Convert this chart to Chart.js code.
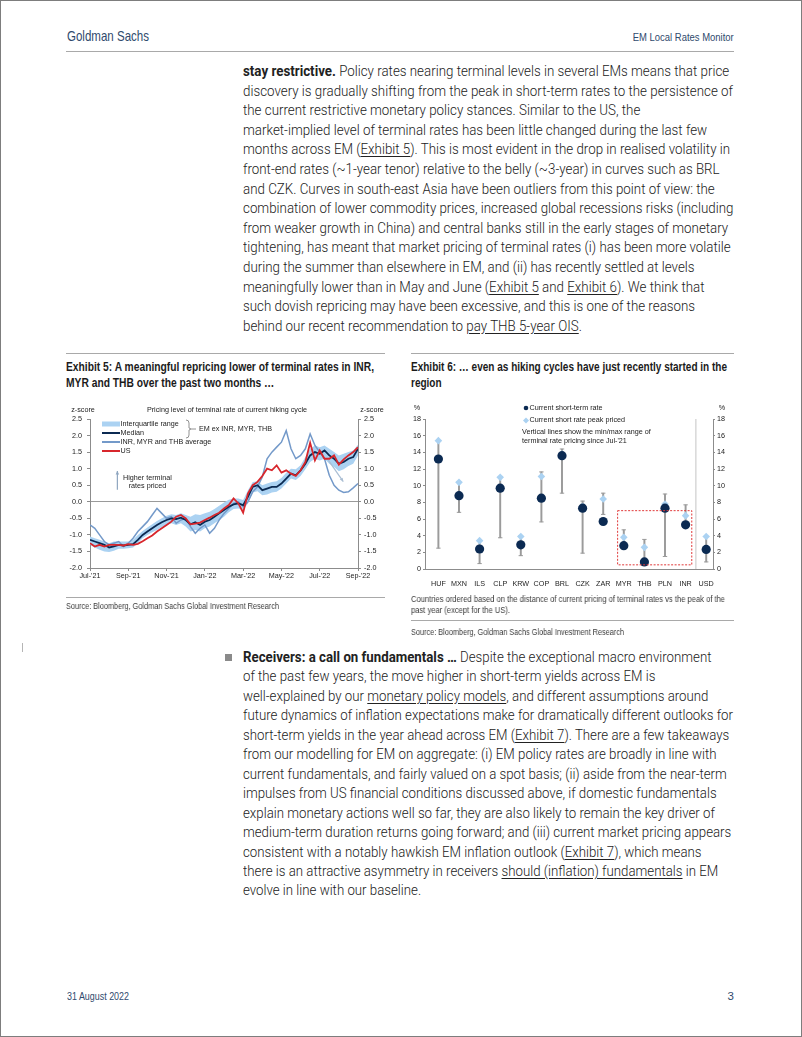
<!DOCTYPE html>
<html>
<head>
<meta charset="utf-8">
<script src="https://cdn.jsdelivr.net/npm/chart.js@4.4.1/dist/chart.umd.min.js"></script>
<style>
html, body { margin: 0; padding: 0; }
body { width: 802px; height: 1037px; position: relative; background: #fff; overflow: hidden; }
.frame { position: absolute; left: 0; top: 0; width: 802px; height: 1037px; box-sizing: border-box; border: 1px solid #7d7d7d; }
.narrow { font-family: "Liberation Sans", Arial, sans-serif; }
.hdr { position: absolute; color: #2f4a6d; white-space: nowrap; transform-origin: left center; }
.hdr.r { transform-origin: right center; }
.rule { position: absolute; height: 0; border-top: 1.5px solid #a9a9a9; }
.text { position: absolute; left: 243px; font-family: Roboto, sans-serif; font-weight: 300; font-size: 14.3px; color: #222; line-height: 19.6px; white-space: nowrap; transform-origin: left top; }
.text b { font-weight: 700; }
.text u { text-decoration: underline; text-underline-offset: 2px; }
.title { position: absolute; font-weight: 700; font-size: 12.3px; line-height: 16px; color: #1b1b1b; white-space: nowrap; transform-origin: left top; }
.note { position: absolute; font-size: 8.6px; line-height: 11px; color: #3a3a3a; white-space: nowrap; transform-origin: left top; will-change: transform; }
.fitline { display: inline-block; }
canvas { position: absolute; }
.bullet { position: absolute; left: 225px; top: 654px; width: 7px; height: 7px; background: #8a8a8a; }
.tick { position: absolute; left: 22px; top: 643px; width: 1px; height: 9px; background: #b5b5b5; }
</style>
</head>
<body>
<div class="frame"></div>

<div class="hdr narrow" data-fit="82" style="left:67px;top:28px;font-size:14.5px;">Goldman Sachs</div>
<div class="hdr narrow r" data-fit="101" style="right:68px;top:31px;font-size:11.5px;">EM Local Rates Monitor</div>
<div class="rule" style="left:66px;top:51px;width:668px;"></div>

<div class="text" data-fit="490" style="top:62px;">
<div><b>stay restrictive.</b> Policy rates nearing terminal levels in several EMs means that price</div>
<div class="fitline">discovery is gradually shifting from the peak in short-term rates to the persistence of</div>
<div>the current restrictive monetary policy stances. Similar to the US, the</div>
<div>market-implied level of terminal rates has been little changed during the last few</div>
<div>months across EM (<u>Exhibit 5</u>). This is most evident in the drop in realised volatility in</div>
<div>front-end rates (~1-year tenor) relative to the belly (~3-year) in curves such as BRL</div>
<div>and CZK. Curves in south-east Asia have been outliers from this point of view: the</div>
<div>combination of lower commodity prices, increased global recessions risks (including</div>
<div>from weaker growth in China) and central banks still in the early stages of monetary</div>
<div>tightening, has meant that market pricing of terminal rates (i) has been more volatile</div>
<div>during the summer than elsewhere in EM, and (ii) has recently settled at levels</div>
<div>meaningfully lower than in May and June (<u>Exhibit 5</u> and <u>Exhibit 6</u>). We think that</div>
<div>such dovish repricing may have been excessive, and this is one of the reasons</div>
<div>behind our recent recommendation to <u>pay THB 5-year OIS</u>.</div>
</div>

<div class="rule" style="left:66px;top:353px;width:319px;"></div>
<div class="rule" style="left:411px;top:353px;width:323px;"></div>
<div class="title narrow" data-fit="308" style="left:66px;top:359px;"><div class="fitline">Exhibit 5: A meaningful repricing lower of terminal rates in INR,</div><div>MYR and THB over the past two months …</div></div>
<div class="title narrow" data-fit="316" style="left:411px;top:359px;"><div class="fitline">Exhibit 6: … even as hiking cycles have just recently started in the</div><div>region</div></div>

<canvas id="c5" width="320" height="190" style="left:66px;top:400px;"></canvas>
<canvas id="c6" width="335" height="190" style="left:405px;top:400px;"></canvas>

<div class="rule" style="left:66px;top:597px;width:319px;"></div>
<div class="note narrow" data-fit="213" style="left:66px;top:601px;"><div class="fitline">Source: Bloomberg, Goldman Sachs Global Investment Research</div></div>
<div class="note narrow" data-fit="314" style="left:411px;top:594px;"><div class="fitline">Countries ordered based on the distance of current pricing of terminal rates vs the peak of the</div><div>past year (except for the US).</div></div>
<div class="rule" style="left:411px;top:620px;width:323px;"></div>
<div class="note narrow" data-fit="213" style="left:411px;top:627px;"><div class="fitline">Source: Bloomberg, Goldman Sachs Global Investment Research</div></div>

<div class="tick"></div>
<div class="bullet"></div>
<div class="text" data-fit="490" style="top:648px;line-height:19.45px;">
<div><b>Receivers: a call on fundamentals …</b> Despite the exceptional macro environment</div>
<div>of the past few years, the move higher in short-term yields across EM is</div>
<div>well-explained by our <u>monetary policy models</u>, and different assumptions around</div>
<div class="fitline">future dynamics of inflation expectations make for dramatically different outlooks for</div>
<div>short-term yields in the year ahead across EM (<u>Exhibit 7</u>). There are a few takeaways</div>
<div>from our modelling for EM on aggregate: (i) EM policy rates are broadly in line with</div>
<div>current fundamentals, and fairly valued on a spot basis; (ii) aside from the near-term</div>
<div>impulses from US financial conditions discussed above, if domestic fundamentals</div>
<div>explain monetary actions well so far, they are also likely to remain the key driver of</div>
<div>medium-term duration returns going forward; and (iii) current market pricing appears</div>
<div>consistent with a notably hawkish EM inflation outlook (<u>Exhibit 7</u>), which means</div>
<div>there is an attractive asymmetry in receivers <u>should (inflation) fundamentals</u> in EM</div>
<div>evolve in line with our baseline.</div>
</div>

<div class="hdr narrow" data-fit="62" style="left:67px;top:990px;font-size:11.5px;">31 August 2022</div>
<div class="hdr narrow r" style="right:68px;top:990px;font-size:11.5px;">3</div>

<script>
// squeeze the condensed-looking texts to the widths they have on the page
document.querySelectorAll('[data-fit]').forEach(el => {
 const ref = el.querySelector('.fitline') || el
 const w = ref.getBoundingClientRect().width
 el.style.transform = 'scaleX(' + (+el.dataset.fit / w) + ')'
})

// ---------- Exhibit 5: z-score of priced terminal rate, weekly from Jul-21 ----------
const weekStep = 0.25 // months per observation
const xTickLabels = ["Jul-'21", "Sep-'21", "Nov-'21", "Jan-'22", "Mar-'22", "May-'22", "Jul-'22", "Sep-'22"]

const emMedian = [
 -1.15, -1.2, -1.25, -1.3, -1.38, -1.35, -1.3, -1.32,
 -1.3, -1.28, -1.15, -1.0, -0.9, -0.8, -0.7, -0.62,
 -0.55, -0.5, -0.52, -0.48, -0.55, -0.68, -0.62, -0.7,
 -0.6, -0.55, -0.45, -0.35, -0.25, -0.15, -0.08, -0.05,
 -0.1, 0.15, 0.45, 0.5, 0.35, 0.4, 0.45, 0.45,
 0.55, 0.7, 0.85, 0.8, 0.95, 1.15, 1.4, 1.5,
 1.45, 1.55, 1.4, 1.3, 1.15, 1.2, 1.3, 1.35,
 1.6
]
const iqrHigh = [
 -1.05, -1.1, -1.15, -1.2, -1.25, -1.2, -1.2, -1.2,
 -1.2, -1.15, -1.0, -0.88, -0.78, -0.68, -0.58, -0.5,
 -0.42, -0.38, -0.4, -0.35, -0.4, -0.45, -0.38, -0.4,
 -0.35, -0.3, -0.22, -0.12, -0.02, 0.06, 0.1, 0.1,
 0.05, 0.35, 0.6, 0.62, 0.5, 0.55, 0.6, 0.62,
 0.72, 0.88, 1.0, 0.98, 1.1, 1.35, 1.6, 1.7,
 1.65, 1.7, 1.6, 1.5, 1.4, 1.45, 1.5, 1.55,
 1.72
]
const iqrLow = [
 -1.3, -1.38, -1.45, -1.5, -1.52, -1.48, -1.42, -1.42,
 -1.4, -1.38, -1.25, -1.1, -1.0, -0.92, -0.85, -0.76,
 -0.7, -0.65, -0.7, -0.65, -0.75, -0.9, -0.85, -0.9,
 -0.8, -0.75, -0.65, -0.55, -0.45, -0.32, -0.22, -0.2,
 -0.25, -0.05, 0.28, 0.32, 0.2, 0.22, 0.28, 0.3,
 0.4, 0.55, 0.7, 0.66, 0.78, 0.98, 1.2, 1.3,
 1.25, 1.3, 1.15, 1.05, 0.92, 0.98, 1.08, 1.15,
 1.4
]
const asiaAvg = [
 -0.7, -0.8, -1.0, -1.2, -1.3, -1.25, -1.2, -1.35,
 -1.25, -1.1, -0.9, -0.75, -0.6, -0.4, -0.2, -0.35,
 -0.5, -0.45, -0.65, -0.55, -0.5, -0.75, -0.95, -0.8,
 -0.7, -0.95, -0.8, -0.55, -0.35, -0.2, -0.05, 0.0,
 -0.15, 0.0, 0.3, 0.45, 0.75, 1.3, 1.5, 1.65,
 1.8, 2.15, 1.6, 1.3, 1.4, 1.6, 2.05, 1.7,
 1.5, 1.3, 0.8, 0.5, 0.35, 0.28, 0.3, 0.42,
 0.55
]
const usTerminal = [
 -1.25, -1.35, -1.3, -1.35, -1.3, -1.3, -1.3, -1.32,
 -1.28, -1.3, -1.27, -1.19, -1.1, -1.02, -0.9, -0.8,
 -0.7, -0.6, -0.45, -0.4, -0.5, -0.68, -0.66, -0.63,
 -0.55, -0.48, -0.4, -0.33, -0.2, -0.1, 0.1, -0.05,
 -0.33, 0.25, 0.5, 0.6, 0.78, 1.0, 0.95, 1.1,
 0.88, 0.95, 0.85, 0.78, 0.95, 1.2, 1.78, 1.25,
 1.55, 1.3, 1.3, 1.4, 1.12, 1.28, 1.4, 1.5,
 1.65
]
// annotation anchors in data units (month index, z-score)
const upArrow = [[1.43, 0.36], [1.43, 0.93]]
const downArrow = [[12.45, 1.26], [13.23, 0.61]]

// ---------- Exhibit 6: short rates vs peak priced ----------
const countries = ['HUF', 'MXN', 'ILS', 'CLP', 'KRW', 'COP', 'BRL', 'CZK', 'ZAR', 'MYR', 'THB', 'PLN', 'INR', 'USD']
const currentRate = [13.2, 8.8, 2.4, 9.7, 2.9, 8.5, 13.6, 7.3, 5.7, 2.8, 0.85, 7.3, 5.3, 2.35]
const peakPriced = [15.4, 10.4, 3.4, 11.0, 3.9, 11.1, 13.8, 7.5, 8.4, 3.8, 2.6, 7.8, 6.4, 3.9]
const rangeMin = [2.5, 6.8, 0.65, 3.75, 1.6, 5.65, 9.1, 1.9, 6.55, 2.7, 0.8, 1.5, 5.2, 0.85]
const rangeMax = [15.4, 10.5, 3.4, 11.1, 4.0, 11.65, 14.4, 8.15, 9.1, 4.7, 3.55, 9.0, 7.7, 3.9]
const boxFrom = 'MYR', boxTo = 'INR', boxLow = 0.5, boxHigh = 7.0

Chart.defaults.font.family = '"Liberation Sans", Arial, sans-serif'
Chart.defaults.font.size = 7.2
Chart.defaults.color = '#222'

const axisGrey = '#8c8c8c'
const navy = '#0b2a52'
const lightBlue = '#abd2f2'
const steel = '#7399c9'
const red = '#d8262c'

const pts = arr => arr.map((v, i) => ({ x: i * weekStep, y: v }))

function arrow(ctx, x0, y0, x1, y1, color, head) {
 ctx.strokeStyle = color
 ctx.fillStyle = color
 ctx.lineWidth = 1.2
 ctx.beginPath()
 ctx.moveTo(x0, y0)
 ctx.lineTo(x1, y1)
 ctx.stroke()
 const ang = Math.atan2(y1 - y0, x1 - x0)
 ctx.beginPath()
 ctx.moveTo(x1, y1)
 ctx.lineTo(x1 - head * Math.cos(ang - 0.45), y1 - head * Math.sin(ang - 0.45))
 ctx.lineTo(x1 - head * Math.cos(ang + 0.45), y1 - head * Math.sin(ang + 0.45))
 ctx.closePath()
 ctx.fill()
}

const exhibit5Notes = {
 id: 'exhibit5Notes',
 afterDraw(chart) {
  const { ctx, chartArea: a, scales: { x, y } } = chart
  ctx.save()
  ctx.font = '7.2px "Liberation Sans", Arial, sans-serif'
  ctx.fillStyle = '#222'
  ctx.textBaseline = 'middle'
  ctx.textAlign = 'center'
  ctx.fillText('Pricing level of terminal rate of current hiking cycle', (a.left + a.right) / 2 + 3, a.top - 9)
  ctx.fillText('z-score', a.left - 7, a.top - 9)
  ctx.fillText('z-score', a.right + 14, a.top - 9)

  // legend
  const items = [
   { t: 'Interquartile range', c: lightBlue, w: 5, dy: 5 },
   { t: 'Median', c: navy, w: 2, dy: 14 },
   { t: 'INR, MYR and THB average', c: steel, w: 2, dy: 23 },
   { t: 'US', c: red, w: 2, dy: 32 }
  ]
  ctx.textAlign = 'left'
  items.forEach(it => {
   ctx.strokeStyle = it.c
   ctx.lineWidth = it.w
   ctx.beginPath()
   ctx.moveTo(a.left + 12, a.top + it.dy)
   ctx.lineTo(a.left + 30, a.top + it.dy)
   ctx.stroke()
   ctx.fillStyle = '#222'
   ctx.fillText(it.t, a.left + 30.5, a.top + it.dy)
  })
  // brace
  ctx.strokeStyle = '#777'
  ctx.lineWidth = 0.8
  const bx = a.left + 96, by0 = a.top + 1, by1 = a.top + 19
  ctx.beginPath()
  ctx.moveTo(bx, by0)
  ctx.quadraticCurveTo(bx + 3, by0, bx + 3, by0 + 3)
  ctx.lineTo(bx + 3, (by0 + by1) / 2 - 1)
  ctx.lineTo(bx + 5, (by0 + by1) / 2)
  ctx.lineTo(bx + 3, (by0 + by1) / 2 + 1)
  ctx.lineTo(bx + 3, by1 - 3)
  ctx.quadraticCurveTo(bx + 3, by1, bx, by1)
  ctx.moveTo(bx + 5, (by0 + by1) / 2)
  ctx.lineTo(bx + 10, (by0 + by1) / 2)
  ctx.stroke()
  ctx.fillStyle = '#222'
  ctx.fillText('EM ex INR, MYR, THB', bx + 13, (by0 + by1) / 2)

  // "higher terminal rates" arrow
  arrow(ctx, x.getPixelForValue(upArrow[0][0]), y.getPixelForValue(upArrow[0][1]),
   x.getPixelForValue(upArrow[1][0]), y.getPixelForValue(upArrow[1][1]), '#8fa6c0', 4)
  ctx.fillStyle = '#222'
  ctx.textAlign = 'center'
  ctx.fillText('Higher terminal', x.getPixelForValue(3.0), y.getPixelForValue(0.71))
  ctx.fillText('rates priced', x.getPixelForValue(3.0), y.getPixelForValue(0.47))

  // repricing arrow
  arrow(ctx, x.getPixelForValue(downArrow[0][0]), y.getPixelForValue(downArrow[0][1]),
   x.getPixelForValue(downArrow[1][0]), y.getPixelForValue(downArrow[1][1]), '#a9bdd3', 4)
  ctx.restore()
 }
}

new Chart(document.getElementById('c5'), {
 type: 'line',
 data: {
  datasets: [
   { label: 'US', data: pts(usTerminal), borderColor: red, borderWidth: 1.8, pointRadius: 0, order: 1 },
   { label: 'Median', data: pts(emMedian), borderColor: navy, borderWidth: 1.8, pointRadius: 0, order: 2 },
   { label: 'INR, MYR and THB average', data: pts(asiaAvg), borderColor: steel, borderWidth: 1.5, pointRadius: 0, order: 3 },
   { label: 'IQR high', data: pts(iqrHigh), borderWidth: 0, borderColor: lightBlue, backgroundColor: lightBlue, fill: '+1', pointRadius: 0, order: 4 },
   { label: 'IQR low', data: pts(iqrLow), borderWidth: 0, borderColor: lightBlue, pointRadius: 0, order: 5 }
  ]
 },
 options: {
  responsive: false,
  animation: false,
  devicePixelRatio: 1,
  layout: { padding: { top: 19 } },
  plugins: { legend: { display: false }, tooltip: { enabled: false } },
  scales: {
   x: {
    type: 'linear', min: 0, max: 14,
    afterFit: s => { s.height = 22 },
    border: { color: axisGrey },
    grid: { drawOnChartArea: false, tickLength: 3, tickColor: axisGrey },
    ticks: { stepSize: 2, padding: 1, maxRotation: 0, autoSkip: false, callback: v => xTickLabels[v / 2] }
   },
   y: {
    min: -2, max: 2.5, position: 'left',
    afterFit: s => { s.width = 24 },
    border: { color: axisGrey },
    grid: { color: c => c.tick && c.tick.value === 0 ? '#9a9a9a' : 'rgba(0,0,0,0)', tickColor: axisGrey, tickLength: 3 },
    ticks: { stepSize: 0.5, padding: 5, callback: v => v.toFixed(1) }
   },
   y2: {
    min: -2, max: 2.5, position: 'right',
    afterFit: s => { s.width = 28 },
    border: { color: axisGrey },
    grid: { drawOnChartArea: false, tickColor: axisGrey, tickLength: 3 },
    ticks: { stepSize: 0.5, padding: 3, callback: v => v.toFixed(1) }
   }
  }
 },
 plugins: [exhibit5Notes]
})

const exhibit6Notes = {
 id: 'exhibit6Notes',
 beforeDatasetsDraw(chart) {
  const { ctx, chartArea: a, scales: { x } } = chart
  const sx = x.getPixelForValue(countries.indexOf('INR') + 0.5)
  ctx.save()
  ctx.strokeStyle = '#c4c4c4'
  ctx.lineWidth = 1
  ctx.beginPath()
  ctx.moveTo(sx, a.top)
  ctx.lineTo(sx, a.bottom)
  ctx.stroke()
  ctx.restore()
 },
 afterDraw(chart) {
  const { ctx, chartArea: a, scales: { x, y } } = chart
  ctx.save()
  // highlighted group
  const unit = x.getPixelForValue(1) - x.getPixelForValue(0)
  const x0 = x.getPixelForValue(countries.indexOf(boxFrom)) - 0.3 * unit
  const x1 = x.getPixelForValue(countries.indexOf(boxTo)) + 0.3 * unit
  ctx.strokeStyle = '#e0393a'
  ctx.lineWidth = 1
  ctx.setLineDash([2, 1.5])
  ctx.strokeRect(x0, y.getPixelForValue(boxHigh), x1 - x0, y.getPixelForValue(boxLow) - y.getPixelForValue(boxHigh))
  ctx.setLineDash([])

  ctx.font = '7.2px "Liberation Sans", Arial, sans-serif'
  ctx.fillStyle = '#222'
  ctx.textBaseline = 'middle'
  ctx.textAlign = 'center'
  ctx.fillText('%', a.left - 8, a.top - 11)
  ctx.fillText('%', a.right + 9, a.top - 11)

  // legend
  const lx = a.left + 101
  ctx.fillStyle = navy
  ctx.beginPath()
  ctx.arc(lx, a.top - 11, 2.3, 0, Math.PI * 2)
  ctx.fill()
  ctx.fillStyle = lightBlue
  ctx.beginPath()
  ctx.moveTo(lx, a.top - 1.5)
  ctx.lineTo(lx + 3, a.top + 1.5)
  ctx.lineTo(lx, a.top + 4.5)
  ctx.lineTo(lx - 3, a.top + 1.5)
  ctx.closePath()
  ctx.fill()
  ctx.fillStyle = '#222'
  ctx.textAlign = 'left'
  ctx.fillText('Current short-term rate', lx + 3.5, a.top - 11)
  ctx.fillText('Current short rate peak priced', lx + 3.5, a.top + 1.5)
  ctx.fillText('Vertical lines show the min/max range of', lx - 4, a.top + 13)
  ctx.fillText("terminal rate pricing since Jul-'21", lx - 4, a.top + 22)
  ctx.restore()
 }
}

const grey = '#9b9b9b'
new Chart(document.getElementById('c6'), {
 type: 'bar',
 data: {
  datasets: [
   {
    label: 'Min/max range', data: countries.map((c, i) => ({ x: i, y: [rangeMin[i], rangeMax[i]] })),
    backgroundColor: grey, barThickness: 1.3, order: 4
   },
   {
    type: 'line', label: 'Range ends', showLine: false, order: 3,
    data: countries.flatMap((c, i) => [{ x: i, y: rangeMin[i] }, { x: i, y: rangeMax[i] }]),
    pointStyle: 'line', pointRadius: 2.2, borderColor: grey, borderWidth: 1
   },
   {
    type: 'line', label: 'Current short rate peak priced', showLine: false, order: 2,
    data: countries.map((c, i) => ({ x: i, y: peakPriced[i] })),
    pointStyle: 'rectRot', pointRadius: 3.8, backgroundColor: lightBlue, borderWidth: 0
   },
   {
    type: 'line', label: 'Current short-term rate', showLine: false, order: 1,
    data: countries.map((c, i) => ({ x: i, y: currentRate[i] })),
    pointStyle: 'circle', pointRadius: 4.6, backgroundColor: navy, borderWidth: 0
   }
  ]
 },
 options: {
  responsive: false,
  animation: false,
  devicePixelRatio: 1,
  layout: { padding: { top: 19 } },
  plugins: { legend: { display: false }, tooltip: { enabled: false } },
  scales: {
   x: {
    type: 'linear', min: -0.65, max: 13.33, offset: false,
    afterBuildTicks: s => { s.ticks = countries.map((c, i) => ({ value: i })) },
    afterFit: s => { s.height = 21 },
    border: { color: axisGrey },
    grid: { display: false },
    ticks: { padding: 3, maxRotation: 0, autoSkip: false, callback: v => countries[v] }
   },
   y: {
    min: 0, max: 18, position: 'left',
    afterFit: s => { s.width = 20 },
    border: { color: axisGrey },
    grid: { drawOnChartArea: false, tickColor: axisGrey, tickLength: 2 },
    ticks: { stepSize: 2, padding: 2 }
   },
   y2: {
    min: 0, max: 18, position: 'right',
    afterFit: s => { s.width = 27 },
    border: { color: axisGrey },
    grid: { drawOnChartArea: false, tickColor: axisGrey, tickLength: 2 },
    ticks: { stepSize: 2, padding: 2 }
   }
  }
 },
 plugins: [exhibit6Notes]
})
</script>
</body>
</html>
